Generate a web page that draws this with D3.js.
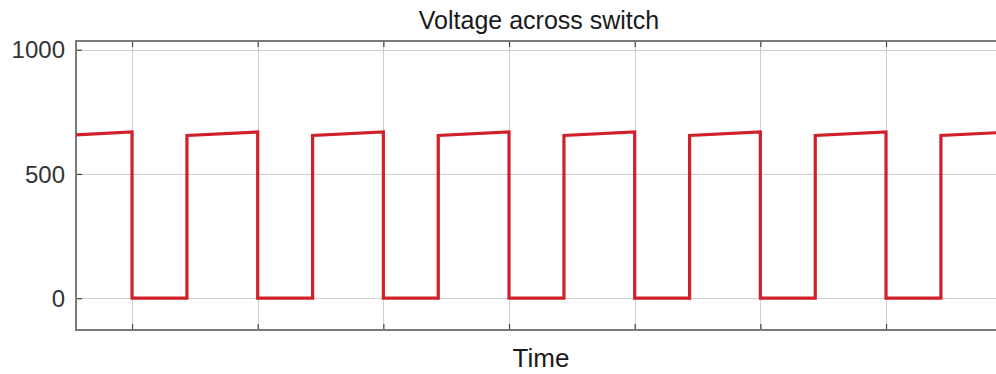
<!DOCTYPE html>
<html>
<head>
<meta charset="utf-8">
<script src="https://cdn.jsdelivr.net/npm/d3@7"></script>
<style>
  html, body { margin: 0; padding: 0; background: #fff; overflow: hidden; }
  svg { display: block; font-family: "Liberation Sans", Arial, Helvetica, sans-serif; }
</style>
</head>
<body>
<svg id="chart" width="996" height="374"></svg>
<script>
// Switch voltage waveform (time in switching periods, volts)
const timePts = [0.554, 1.0, 1.0, 1.437, 1.437, 2.0, 2.0, 2.437, 2.437, 3.0, 3.0, 3.437, 3.437,
                 4.0, 4.0, 4.437, 4.437, 5.0, 5.0, 5.437, 5.437, 6.0, 6.0, 6.437, 6.437,
                 7.0, 7.0, 7.437, 7.437, 7.923];
const voltPts = [657, 669, 0, 0, 655, 669, 0, 0, 655, 669, 0, 0, 655,
                 669, 0, 0, 655, 669, 0, 0, 655, 669, 0, 0, 655,
                 669, 0, 0, 655, 667];
const xTicks = [1, 2, 3, 4, 5, 6, 7];
const yTicks = [0, 500, 1000];
const titleText = "Voltage across switch";
const xLabel = "Time";

const svg = d3.select("#chart");
const plotL = 76, plotR = 1002, plotT = 41, plotB = 330;

const x = d3.scaleLinear().domain([0.554, 7.923]).range([plotL, plotR]);
const y = d3.scaleLinear().domain([-128, 1035]).range([plotB, plotT]);

const data = timePts.map((t, i) => ({ t, v: voltPts[i] }));

// grid
svg.append("g").selectAll("line").data(xTicks).join("line")
  .attr("x1", d => Math.round(x(d)) + 0.5).attr("x2", d => Math.round(x(d)) + 0.5)
  .attr("y1", plotT).attr("y2", plotB)
  .attr("stroke", "#cfcfcf").attr("stroke-width", 1);
svg.append("g").selectAll("line").data(yTicks).join("line")
  .attr("x1", plotL).attr("x2", plotR)
  .attr("y1", d => Math.round(y(d)) + 0.5).attr("y2", d => Math.round(y(d)) + 0.5)
  .attr("stroke", "#cfcfcf").attr("stroke-width", 1);

// axes box with inward ticks
const axisColor = "#7a7a7a";
const yAxis = d3.axisRight(y).tickValues(yTicks).tickSize(6).tickFormat("");
svg.append("g").attr("transform", `translate(${plotL},0)`).call(yAxis)
  .call(g => g.select(".domain").remove())
  .call(g => g.selectAll(".tick line").attr("stroke", "#444").attr("stroke-width", 1.2));

const xAxisB = d3.axisTop(x).tickValues(xTicks).tickSize(6).tickFormat("");
svg.append("g").attr("transform", `translate(0,${plotB})`).call(xAxisB)
  .call(g => g.select(".domain").remove())
  .call(g => g.selectAll(".tick line").attr("stroke", "#444").attr("stroke-width", 1.2));
const xAxisT = d3.axisBottom(x).tickValues(xTicks).tickSize(6).tickFormat("");
svg.append("g").attr("transform", `translate(0,${plotT})`).call(xAxisT)
  .call(g => g.select(".domain").remove())
  .call(g => g.selectAll(".tick line").attr("stroke", "#444").attr("stroke-width", 1.2));

svg.append("rect")
  .attr("x", plotL).attr("y", plotT)
  .attr("width", plotR - plotL).attr("height", plotB - plotT)
  .attr("fill", "none").attr("stroke", axisColor).attr("stroke-width", 2);

// tick labels
svg.append("g").selectAll("text").data(yTicks).join("text")
  .attr("x", plotL - 11).attr("y", d => y(d))
  .attr("dy", "0.36em")
  .attr("text-anchor", "end")
  .attr("font-size", 24)
  .attr("fill", "#333")
  .text(d => d);

// waveform
const line = d3.line().x(d => x(d.t)).y(d => y(d.v));
svg.append("path").datum(data)
  .attr("d", line)
  .attr("fill", "none")
  .attr("stroke", "#d0202a")
  .attr("stroke-width", 3.2)
  .attr("stroke-linejoin", "miter");

// title and axis label
svg.append("text")
  .attr("x", (plotL + plotR) / 2).attr("y", 29)
  .attr("text-anchor", "middle")
  .attr("font-size", 25)
  .attr("fill", "#1a1a1a")
  .text(titleText);

svg.append("text")
  .attr("x", (plotL + plotR) / 2 + 2).attr("y", 367)
  .attr("text-anchor", "middle")
  .attr("font-size", 26)
  .attr("fill", "#1a1a1a")
  .text(xLabel);
</script>
</body>
</html>
